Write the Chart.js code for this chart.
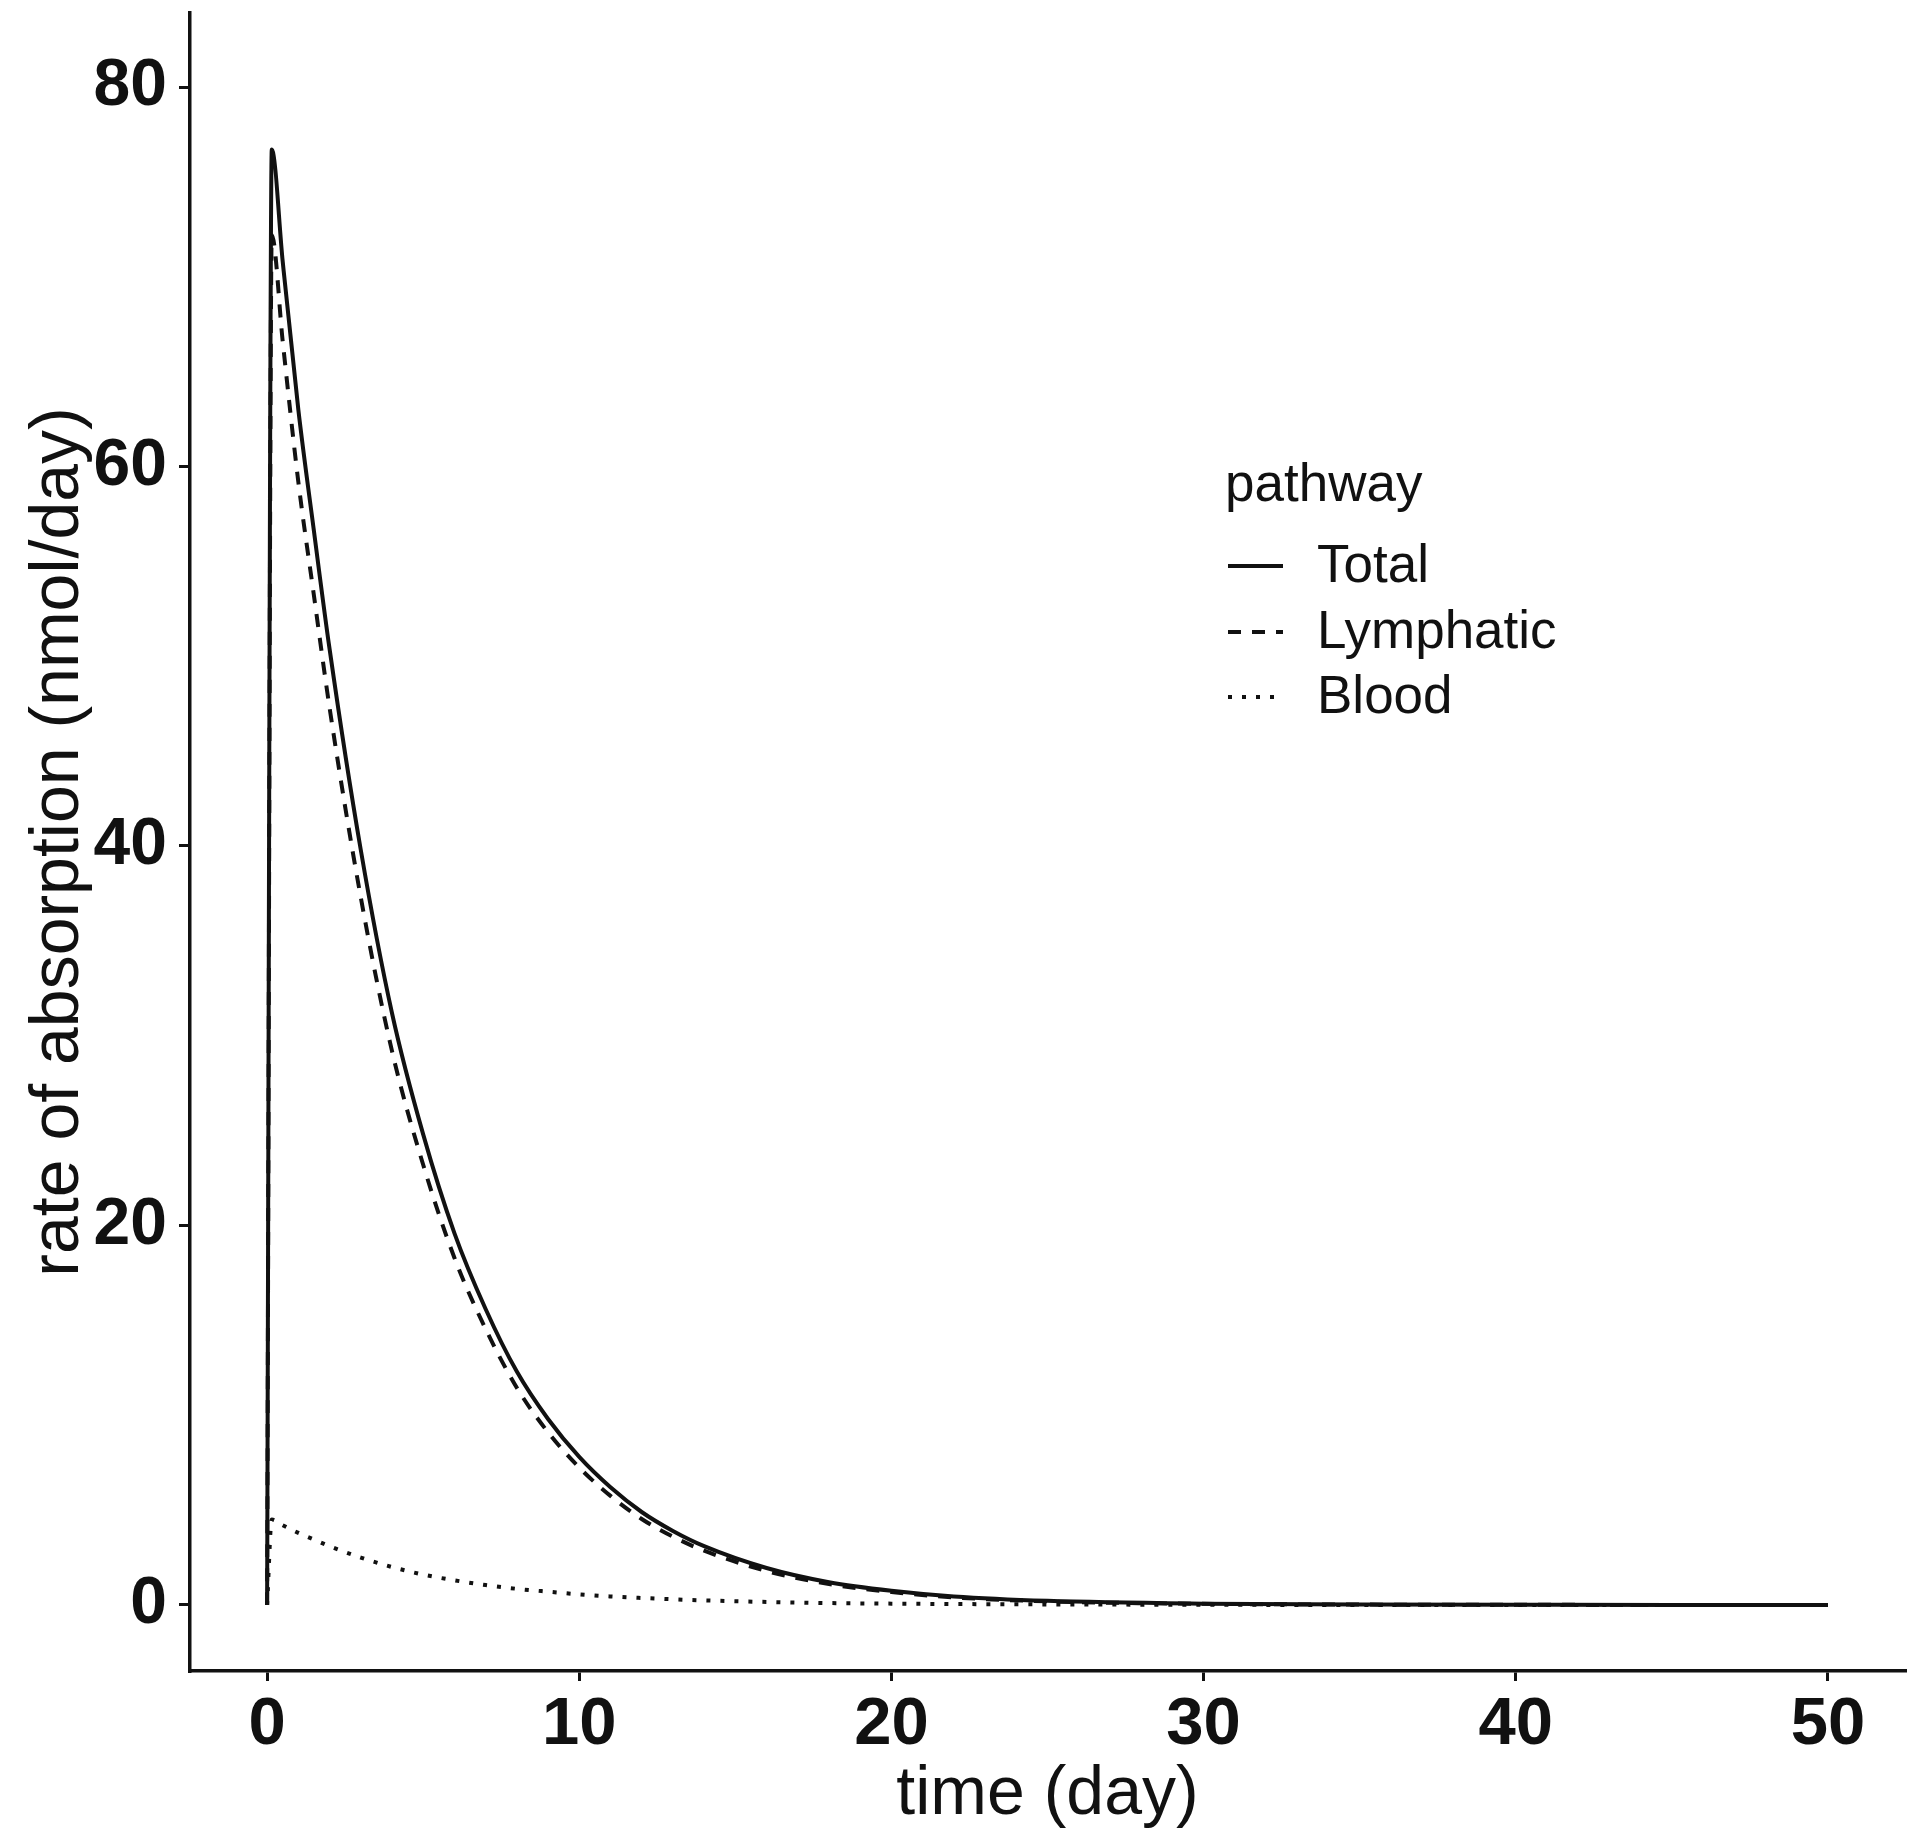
<!DOCTYPE html>
<html>
<head>
<meta charset="utf-8">
<script src="https://cdn.jsdelivr.net/npm/chart.js@4.4.1/dist/chart.umd.min.js"></script>
<style>
  html, body { margin: 0; padding: 0; background: #ffffff; }
  #wrap { width: 1920px; height: 1844px; }
</style>
</head>
<body>
<div id="wrap"><canvas id="c" width="1920" height="1844"></canvas></div>
<script>
// ---- data ----
const timeDays = [0, 0.15, 0.5, 1, 1.5, 2, 3, 4, 5, 6, 7, 8, 9, 10, 11, 12, 13, 14, 16, 18, 20, 22, 25, 30, 35, 40, 45, 50];
const totalRate = [0, 76.7, 70.8, 63, 56.6, 50.4, 39.8, 31.2, 24.8, 19.6, 15.6, 12.3, 9.8, 7.8, 6.2, 4.9, 3.9, 3.1, 1.95, 1.2, 0.75, 0.45, 0.22, 0.07, 0.02, 0.01, 0, 0];
const lymphaticRate = [0, 72.2, 66.6, 59.2, 53.2, 47.3, 37.3, 29.2, 23.2, 18.3, 14.55, 11.45, 9.1, 7.24, 5.75, 4.53, 3.6, 2.86, 1.79, 1.1, 0.68, 0.4, 0.19, 0.06, 0.02, 0.01, 0, 0];
const bloodRate = [0, 4.5, 4.2, 3.8, 3.45, 3.1, 2.5, 2.0, 1.6, 1.3, 1.05, 0.85, 0.7, 0.56, 0.45, 0.37, 0.3, 0.24, 0.16, 0.1, 0.07, 0.05, 0.03, 0.01, 0, 0, 0, 0];
const seriesNames = ['Total', 'Lymphatic', 'Blood'];
const xTickValues = [0, 10, 20, 30, 40, 50];
const yTickValues = [0, 20, 40, 60, 80];
const xTitle = 'time (day)';
const yTitle = 'rate of absorption (nmol/day)';
const legendTitle = 'pathway';

const FONT = '"Liberation Sans", Arial, Helvetica, sans-serif';
const INK = '#111111';

function pts(ys) { return timeDays.map((t, i) => ({ x: t, y: ys[i] })); }

const legendPlugin = {
  id: 'ggLegend',
  afterDraw(chart) {
    const ctx = chart.ctx;
    ctx.save();
    ctx.fillStyle = INK;
    ctx.textAlign = 'left';
    ctx.textBaseline = 'middle';
    ctx.font = '53px ' + FONT;
    ctx.fillText(legendTitle, 1225, 486);
    const rows = [566, 632, 697];
    chart.data.datasets.forEach((ds, i) => {
      const y = rows[i];
      ctx.beginPath();
      ctx.strokeStyle = ds.borderColor;
      ctx.lineWidth = ds.borderWidth;
      ctx.setLineDash(ds.borderDash || []);
      ctx.lineCap = 'butt';
      ctx.moveTo(1228, y);
      ctx.lineTo(1283, y);
      ctx.stroke();
      ctx.setLineDash([]);
      ctx.fillStyle = INK;
      ctx.fillText(ds.label, 1317, y + 1);
    });
    ctx.restore();
  }
};

new Chart(document.getElementById('c'), {
  type: 'line',
  data: {
    datasets: [
      { label: seriesNames[0], data: pts(totalRate), borderColor: INK, borderWidth: 4, borderDash: [] },
      { label: seriesNames[1], data: pts(lymphaticRate), borderColor: INK, borderWidth: 4, borderDash: [13, 11] },
      { label: seriesNames[2], data: pts(bloodRate), borderColor: INK, borderWidth: 4, borderDash: [4, 10] }
    ]
  },
  options: {
    responsive: false,
    animation: false,
    devicePixelRatio: 1,
    layout: { padding: { top: 13, right: 15, bottom: 0, left: 0 } },
    elements: { point: { radius: 0 }, line: { cubicInterpolationMode: 'monotone', fill: false } },
    plugins: { legend: { display: false }, tooltip: { enabled: false } },
    scales: {
      x: {
        type: 'linear',
        min: -2.47, max: 52.47,
        afterBuildTicks: s => { s.ticks = xTickValues.map(v => ({ value: v })); },
        afterFit: s => { s.height = 173; s.paddingLeft = 0; s.paddingRight = 0; },
        grid: { drawOnChartArea: false, drawTicks: true, tickLength: 10, color: INK, lineWidth: 3 },
        border: { display: true, color: INK, width: 3.5 },
        ticks: { color: INK, font: { family: FONT, size: 67, weight: 'bold' }, padding: 4, maxRotation: 0 },
        title: { display: true, text: xTitle, color: INK, font: { family: FONT, size: 68 }, padding: { top: 0, bottom: 8 } }
      },
      y: {
        type: 'linear',
        min: -3.48, max: 83.9,
        afterBuildTicks: s => { s.ticks = yTickValues.map(v => ({ value: v })); },
        afterFit: s => { s.width = 190; s.paddingTop = 0; s.paddingBottom = 0; },
        grid: { drawOnChartArea: false, drawTicks: true, tickLength: 11, color: INK, lineWidth: 3 },
        border: { display: true, color: INK, width: 3.5 },
        ticks: { color: INK, font: { family: FONT, size: 66, weight: 'bold' }, padding: 12 },
        title: { display: true, text: yTitle, color: INK, font: { family: FONT, size: 68 }, padding: { top: 18, bottom: 0 } }
      }
    }
  },
  plugins: [legendPlugin]
});
</script>
</body>
</html>
